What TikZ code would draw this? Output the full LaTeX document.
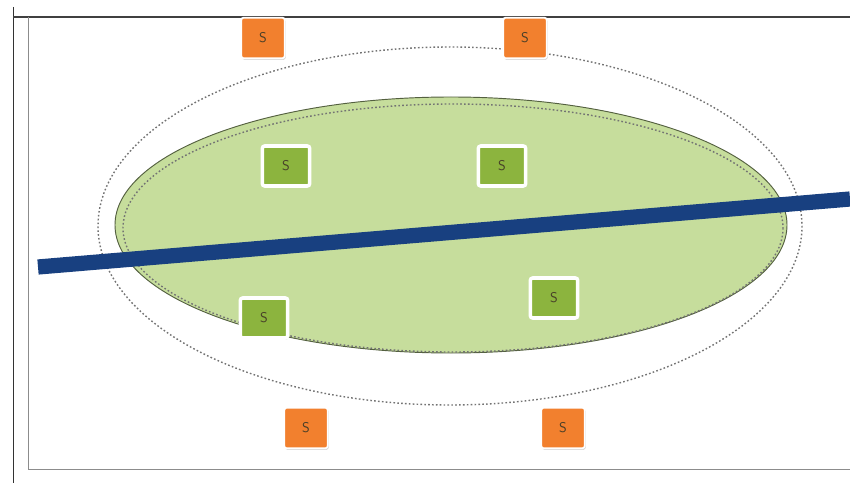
\documentclass[tikz,border=0pt]{standalone}
\usepackage{tikz}
\usetikzlibrary{positioning}
\usetikzlibrary{shadows}
\definecolor{leaf}{RGB}{198,221,156}
\definecolor{leafedge}{RGB}{84,96,64}
\definecolor{grass}{RGB}{140,180,62}
\definecolor{carrot}{RGB}{242,128,46}
\definecolor{river}{RGB}{24,64,128}
\definecolor{ink}{RGB}{70,62,40}

\begin{document}
\begin{tikzpicture}[x=0.03cm, y=-0.03cm,
    dotline/.style={draw=black!55, line width=1.2pt, dash pattern=on 1.4pt off 1.9pt},
    sbox/.style={rectangle, rounded corners=2pt, draw=white, text=ink,
                 font=\sffamily\large, inner sep=0pt,
                 drop shadow={shadow xshift=0.8pt, shadow yshift=-1.2pt, opacity=0.45}},
    outbox/.style={sbox, fill=carrot, line width=1.5pt, minimum width=1.3cm, minimum height=1.22cm},
    inbox/.style={sbox, fill=grass, line width=3pt, minimum width=1.42cm, minimum height=1.2cm}]
    \useasboundingbox (0,0) rectangle (850,483);

    % Frame of the screen shot
    \draw[black!80, line width=0.8pt] (13,7) -- (13,483);
    \draw[black!75, line width=1pt] (13,17) -- (850,17);
    \draw[black!45, line width=0.8pt] (28,17) -- (28,469) -- (850,469);

    % Outer dotted ellipse
    \path[dotline] (450,226) ellipse (352 and 179);

    % Green ellipse with the inner dotted ellipse
    \fill[leaf] (451,225) ellipse (336 and 128);
    \draw[leafedge, line width=0.8pt] (451,225) ellipse (336 and 128);
    \path[dotline] (453,228) ellipse (330 and 124);

    % Blue bar across
    \coordinate (barw) at (38,267);
    \coordinate (bare) at (850,199);
    \draw[river, line width=13pt] (barw) -- (bare);

    % S boxes outside
    \node[outbox] (s1) at (263,38) {S};
    \node[outbox] (s2) at (525,38) {S};
    \node[outbox] (s3) at (306,428) {S};
    \node[outbox] (s4) at (563,428) {S};

    % S boxes inside
    \node[inbox] (s5) at (286,166) {S};
    \node[inbox] (s6) at (502,166) {S};
    \node[inbox] (s7) at (264,318) {S};
    \node[inbox] (s8) at (554,298) {S};

\end{tikzpicture}
\end{document}
